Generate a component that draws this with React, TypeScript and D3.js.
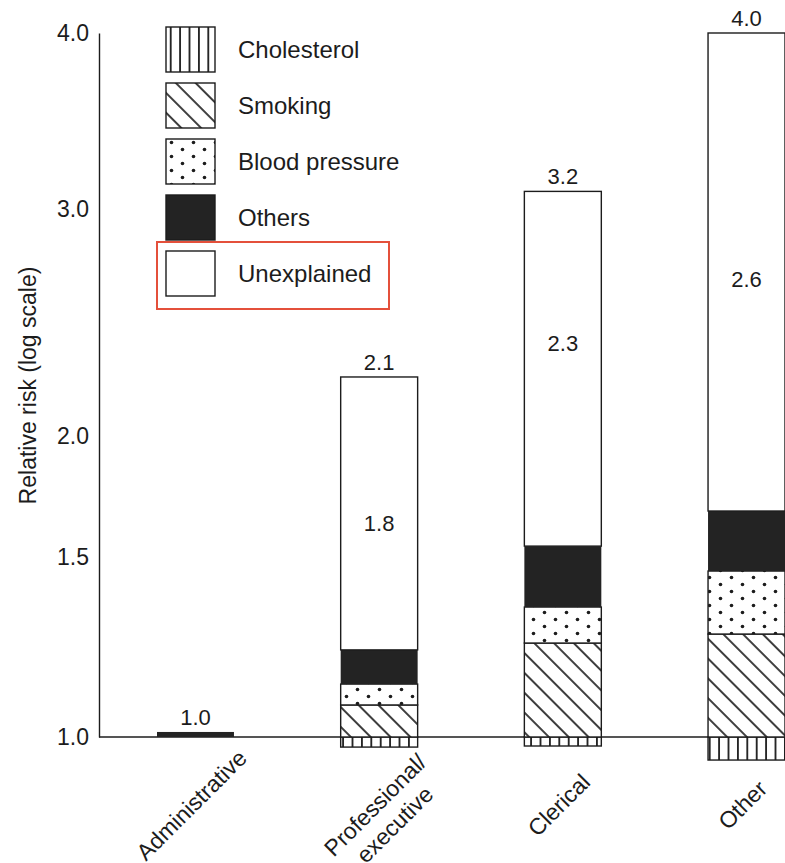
import React, { useEffect, useRef } from 'react';
import * as d3 from 'd3';

// Occupational grade categories (x axis), one label line per entry
const categoryLines: string[][] = [
  ['Administrative'],
  ['Professional/', 'executive'],
  ['Clerical'],
  ['Other'],
];

// Stacked components, bottom to top
const components = ['Cholesterol', 'Smoking', 'Blood pressure', 'Others', 'Unexplained'];

// Segment boundaries on the relative-risk axis, per category
const cholesterolLow = [1.0, 0.972, 0.975, 0.936];
const smokingTop = [1.0, 1.089, 1.261, 1.286];
const bloodPressureTop = [1.0, 1.147, 1.361, 1.461];
const othersTop = [1.014, 1.242, 1.545, 1.69];
const unexplainedTop = [1.014, 2.26, 3.1, 4.0];

// Printed numbers
const totalLabels = ['1.0', '2.1', '3.2', '4.0'];
const unexplainedLabels = ['', '1.8', '2.3', '2.6'];
const unexplainedLabelAt = [0, 1.64, 2.41, 2.69];

// Axis ticks
const yTicks = [1.0, 1.5, 2.0, 3.0, 4.0];

const W = 785;
const H = 863;
const INK = '#1c1c1c';
const FONT = '"Liberation Sans", Arial, Helvetica, sans-serif';

const App: React.FC = () => {
  const svgRef = useRef<SVGSVGElement>(null);

  useEffect(() => {
    if (!svgRef.current) return;
    const svg = d3.select(svgRef.current);
    svg.selectAll('*').remove();

    const defs = svg.append('defs');

    // vertical lines - cholesterol
    const pv = defs.append('pattern')
      .attr('id', 'pat-chol')
      .attr('patternUnits', 'userSpaceOnUse')
      .attr('width', 9.4)
      .attr('height', 10);
    pv.append('rect').attr('width', 9.4).attr('height', 10).attr('fill', '#fff');
    pv.append('line')
      .attr('x1', 4.7).attr('x2', 4.7).attr('y1', -1).attr('y2', 11)
      .attr('stroke', INK).attr('stroke-width', 1.8);

    // diagonal "\" lines - smoking
    const pd = defs.append('pattern')
      .attr('id', 'pat-smoke')
      .attr('patternUnits', 'userSpaceOnUse')
      .attr('width', 14)
      .attr('height', 14)
      .attr('patternTransform', 'rotate(-45)');
    pd.append('rect').attr('width', 14).attr('height', 14).attr('fill', '#fff');
    pd.append('line')
      .attr('x1', 7).attr('x2', 7).attr('y1', -1).attr('y2', 15)
      .attr('stroke', INK).attr('stroke-width', 1.7);

    // staggered dots - blood pressure
    const pp = defs.append('pattern')
      .attr('id', 'pat-bp')
      .attr('patternUnits', 'userSpaceOnUse')
      .attr('width', 22)
      .attr('height', 14);
    pp.append('rect').attr('width', 22).attr('height', 14).attr('fill', '#fff');
    pp.append('circle').attr('cx', 5.5).attr('cy', 3.5).attr('r', 1.8).attr('fill', INK);
    pp.append('circle').attr('cx', 16.5).attr('cy', 10.5).attr('r', 1.8).attr('fill', INK);

    const fills: Record<string, string> = {
      'Cholesterol': 'url(#pat-chol)',
      'Smoking': 'url(#pat-smoke)',
      'Blood pressure': 'url(#pat-bp)',
      'Others': '#232323',
      'Unexplained': '#ffffff',
    };

    const cats = categoryLines.map(l => l.join(' '));

    const x = d3.scaleBand<string>()
      .domain(cats)
      .range([157, 785])
      .paddingInner(0.581)
      .paddingOuter(0);

    // the printed axis is not evenly spaced, so follow its tick positions
    const y = d3.scaleLinear()
      .domain(yTicks)
      .range([737, 557, 436, 209, 33]);

    const g = svg.append('g').style('font-family', FONT).attr('fill', INK);

    // y axis
    const yAxis = d3.axisLeft(y)
      .tickValues(yTicks)
      .tickSize(0)
      .tickSizeOuter(0)
      .tickPadding(10)
      .tickFormat(d3.format('.1f'));
    const axisG = g.append('g').attr('transform', 'translate(99,0)').call(yAxis);
    axisG.attr('font-family', FONT).attr('font-size', 23);
    axisG.select('.domain').attr('stroke', INK).attr('stroke-width', 1.4);
    axisG.selectAll('.tick text').attr('fill', INK);

    // baseline at relative risk 1.0
    g.append('line')
      .attr('x1', 99).attr('x2', W)
      .attr('y1', y(1)).attr('y2', y(1))
      .attr('stroke', INK).attr('stroke-width', 1.4);

    // axis title
    g.append('text')
      .attr('transform', `translate(28,${(y(1.5) + y(2)) / 2 - 111}) rotate(-90)`)
      .attr('text-anchor', 'middle')
      .attr('dy', '0.35em')
      .attr('font-size', 23)
      .text('Relative risk (log scale)');

    // stacked bars
    cats.forEach((cat, i) => {
      const segs = [
        { key: components[0], y0: cholesterolLow[i], y1: 1 },
        { key: components[1], y0: 1, y1: smokingTop[i] },
        { key: components[2], y0: smokingTop[i], y1: bloodPressureTop[i] },
        { key: components[3], y0: bloodPressureTop[i], y1: othersTop[i] },
        { key: components[4], y0: othersTop[i], y1: unexplainedTop[i] },
      ].filter(s => s.y1 > s.y0);

      const bar = g.append('g');
      bar.selectAll('rect')
        .data(segs)
        .join('rect')
        .attr('x', x(cat)!)
        .attr('width', x.bandwidth())
        .attr('y', d => y(d.y1))
        .attr('height', d => y(d.y0) - y(d.y1))
        .attr('fill', d => fills[d.key])
        .attr('stroke', d => (d.key === 'Others' ? 'none' : INK))
        .attr('stroke-width', 1.4);

      const cx = x(cat)! + x.bandwidth() / 2;

      g.append('text')
        .attr('x', cx)
        .attr('y', y(unexplainedTop[i]) - 7)
        .attr('text-anchor', 'middle')
        .attr('font-size', 22)
        .text(totalLabels[i]);

      if (unexplainedLabels[i]) {
        g.append('text')
          .attr('x', cx)
          .attr('y', y(unexplainedLabelAt[i]))
          .attr('dy', '0.35em')
          .attr('text-anchor', 'middle')
          .attr('font-size', 22)
          .text(unexplainedLabels[i]);
      }

      // rotated category label
      const lbl = g.append('text')
        .attr('transform', `translate(${cx - 4},805) rotate(-45)`)
        .attr('text-anchor', 'middle')
        .attr('font-size', 23);
      lbl.selectAll('tspan')
        .data(categoryLines[i])
        .join('tspan')
        .attr('x', 0)
        .attr('dy', (_d, j) => (j === 0 ? '0.35em' : '1.2em'))
        .text(d => d);
    });

    // legend
    const legendX = 166;
    const legendTop = 27;
    const step = 56;
    const sw = 49;
    const sh = 45;
    const legend = g.append('g');
    const items = legend.selectAll('g')
      .data(components)
      .join('g')
      .attr('transform', (_d, i) => `translate(${legendX},${legendTop + i * step})`);
    items.append('rect')
      .attr('width', sw)
      .attr('height', sh)
      .attr('fill', d => fills[d])
      .attr('stroke', INK)
      .attr('stroke-width', 1.4);
    items.append('text')
      .attr('x', 72)
      .attr('y', sh / 2)
      .attr('dy', '0.35em')
      .attr('font-size', 24)
      .text(d => d);

    // red highlight round the last entry
    const lastTop = legendTop + (components.length - 1) * step;
    legend.append('rect')
      .attr('x', legendX - 9)
      .attr('y', lastTop - 9)
      .attr('width', 232)
      .attr('height', 67)
      .attr('fill', 'none')
      .attr('stroke', '#e4503b')
      .attr('stroke-width', 2);
  }, []);

  return (
    <svg
      ref={svgRef}
      width={W}
      height={H}
      viewBox={`0 0 ${W} ${H}`}
      style={{ position: 'absolute', left: 0, top: 0, display: 'block', background: '#fff' }}
    />
  );
};

export default App;
